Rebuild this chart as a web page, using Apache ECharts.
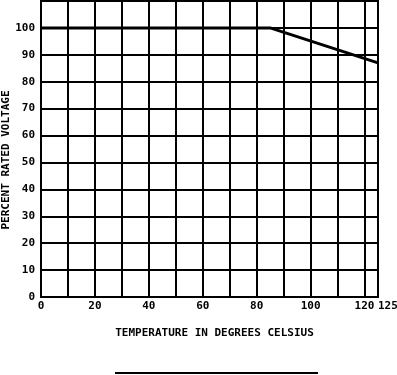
<!DOCTYPE html>
<html><head><meta charset="utf-8">
<script src="https://cdn.jsdelivr.net/npm/echarts@6/dist/echarts.min.js"></script>
<style>html,body{margin:0;padding:0;background:#fff}#c{width:397px;height:375px}</style>
</head><body><div id="c"></div>
<script>
var temps = [0, 85, 125];
var voltage = [100, 100, 87];
var xTitle = 'TEMPERATURE IN DEGREES CELSIUS';
var yTitle = 'PERCENT RATED VOLTAGE';

var font = 'DejaVu Sans Mono';
var chart = echarts.init(document.getElementById('c'));
chart.setOption({
  animation: false,
  grid: {left: 41, right: 19, top: 1, bottom: 78, show: true, borderColor: '#000', borderWidth: 2,
         containLabel: false, outerBoundsMode: 'none'},
  xAxis: {
    type: 'value', min: 0, max: 125, interval: 10,
    axisLine: {show: true, lineStyle: {color: '#000', width: 2}},
    axisTick: {show: false},
    splitLine: {show: true, lineStyle: {color: '#000', width: 2}},
    axisLabel: {
      color: '#000', fontFamily: font, fontWeight: 'bold', fontSize: 11, margin: 4,
      showMaxLabel: true, alignMaxLabel: 'left',
      formatter: function (v) { return (v % 20 === 0 || v === 125) ? String(v) : ''; }
    },
    name: xTitle, nameLocation: 'middle', nameGap: 31,
    nameTextStyle: {color: '#000', fontFamily: font, fontWeight: 'bold', fontSize: 11, padding: [0, 0, 0, 10]}
  },
  yAxis: {
    type: 'value', min: 0, max: 110, interval: 10,
    axisLine: {show: true, lineStyle: {color: '#000', width: 2}},
    axisTick: {show: false},
    splitLine: {show: true, lineStyle: {color: '#000', width: 2}},
    axisLabel: {
      color: '#000', fontFamily: font, fontWeight: 'bold', fontSize: 11, margin: 6,
      formatter: function (v) { return v <= 100 ? String(v) : ''; }
    }
  },
  series: [{
    type: 'line', data: temps.map(function (t, i) { return [t, voltage[i]]; }),
    symbol: 'none', lineStyle: {color: '#000', width: 3}
  }],
  graphic: [{
    type: 'line', shape: {x1: 115, y1: 373, x2: 318, y2: 373},
    style: {stroke: '#000', lineWidth: 2}
  }, {
    type: 'text', x: 6, y: 160, rotation: Math.PI / 2,
    style: {text: yTitle, fill: '#000', font: 'bold 11px "DejaVu Sans Mono"', align: 'center', verticalAlign: 'middle'}
  }]
});
</script></body></html>
